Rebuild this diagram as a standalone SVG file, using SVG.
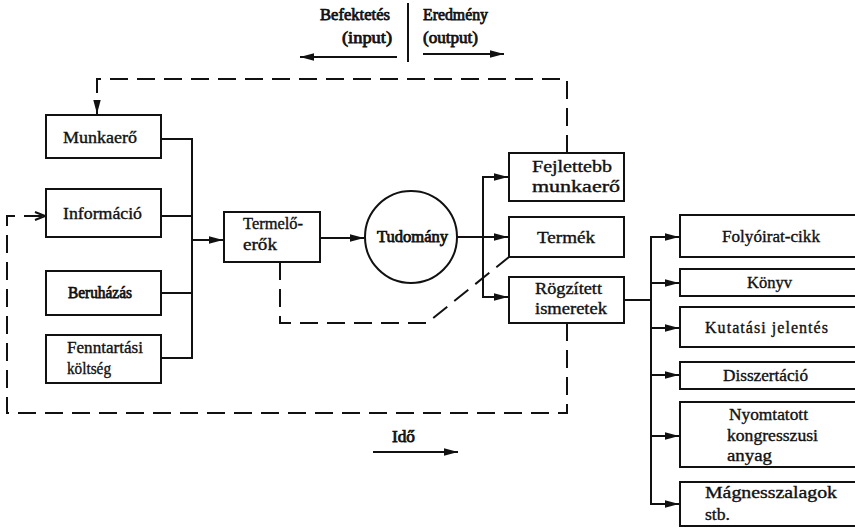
<svg xmlns="http://www.w3.org/2000/svg" width="855" height="528" viewBox="0 0 855 528">
  <defs>
    <marker id="arr" viewBox="0 0 14 9" refX="14" refY="4.5" markerWidth="14" markerHeight="9" markerUnits="userSpaceOnUse" orient="auto">
      <path d="M0,0.8 L14,4.5 L0,8.2 Z" fill="#111"/>
    </marker>
    <marker id="open" viewBox="0 0 12 10" refX="11" refY="5" markerWidth="12" markerHeight="10" markerUnits="userSpaceOnUse" orient="auto">
      <path d="M1,1 L11,5 L1,9" fill="none" stroke="#111" stroke-width="2"/>
    </marker>
  </defs>
  <style>
    .box { fill: #fff; stroke: #111; stroke-width: 2; }
    .ln { fill: none; stroke: #111; stroke-width: 2; }
    .dash { fill: none; stroke: #111; stroke-width: 2; stroke-dasharray: 18 9; }
    text { font-family: "Liberation Serif", "DejaVu Serif", serif; font-size: 16px; fill: #111; stroke: #111; stroke-width: 0.35; }
    .b { stroke-width: 0.75; }
  </style>
  <rect width="855" height="528" fill="#fff"/>

  <!-- direction legend -->
  <g id="legend">
    <line x1="408" y1="3" x2="408" y2="62" class="ln"/>
    <text x="320" y="20" class="b" textLength="70" lengthAdjust="spacingAndGlyphs">Befektetés</text>
    <text x="342" y="43" class="b" textLength="50" lengthAdjust="spacingAndGlyphs">(input)</text>
    <text x="423" y="20" class="b" textLength="65" lengthAdjust="spacingAndGlyphs">Eredmény</text>
    <text x="423" y="43" class="b" textLength="55" lengthAdjust="spacingAndGlyphs">(output)</text>
    <line x1="397" y1="57" x2="300" y2="57" class="ln" marker-end="url(#arr)"/>
    <line x1="423" y1="54" x2="504" y2="54" class="ln" marker-end="url(#arr)"/>
  </g>

  <!-- connectors -->
  <g id="connectors">
    <!-- feedback: developed labour back to labour -->
    <polyline points="567,153 567,79 97,79 97,114" class="dash" marker-end="url(#arr)"/>
    <!-- feedback: recorded knowledge back to information -->
    <polyline points="567,323 567,413 7,413 7,216 45,216" class="dash" marker-end="url(#open)"/>
    <!-- productive forces to product -->
    <polyline points="280,262 280,323 427,323 509,257" class="dash"/>
    <!-- inputs bus -->
    <line x1="161" y1="139" x2="192" y2="139" class="ln"/>
    <line x1="161" y1="216" x2="192" y2="216" class="ln"/>
    <line x1="161" y1="293" x2="192" y2="293" class="ln"/>
    <line x1="161" y1="358" x2="192" y2="358" class="ln"/>
    <line x1="192" y1="138" x2="192" y2="359" class="ln"/>
    <line x1="192" y1="240" x2="223" y2="240" class="ln" marker-end="url(#arr)"/>
    <line x1="320" y1="238" x2="364" y2="238" class="ln" marker-end="url(#arr)"/>
    <!-- outputs -->
    <line x1="457" y1="237" x2="508" y2="237" class="ln" marker-end="url(#arr)"/>
    <polyline points="495,177 483,177 483,297 495,297" class="ln"/>
    <line x1="483" y1="177" x2="508" y2="177" class="ln" marker-end="url(#arr)"/>
    <line x1="483" y1="297" x2="508" y2="297" class="ln" marker-end="url(#arr)"/>
    <!-- documents bus -->
    <line x1="624" y1="300" x2="651" y2="300" class="ln"/>
    <line x1="651" y1="236" x2="651" y2="505" class="ln"/>
    <line x1="651" y1="237" x2="679" y2="237" class="ln" marker-end="url(#arr)"/>
    <line x1="651" y1="283" x2="679" y2="283" class="ln" marker-end="url(#arr)"/>
    <line x1="651" y1="328" x2="679" y2="328" class="ln" marker-end="url(#arr)"/>
    <line x1="651" y1="375" x2="679" y2="375" class="ln" marker-end="url(#arr)"/>
    <line x1="651" y1="436" x2="679" y2="436" class="ln" marker-end="url(#arr)"/>
    <line x1="651" y1="504" x2="679" y2="504" class="ln" marker-end="url(#arr)"/>
  </g>

  <!-- input nodes -->
  <g id="munkaero">
    <rect x="46" y="115" width="115" height="43" class="box"/>
    <text x="63" y="143" textLength="74" lengthAdjust="spacingAndGlyphs">Munkaerő</text>
  </g>
  <g id="informacio">
    <rect x="46" y="189" width="115" height="48" class="box"/>
    <text x="63" y="219" textLength="79" lengthAdjust="spacingAndGlyphs">Információ</text>
  </g>
  <g id="beruhazas">
    <rect x="46" y="271" width="115" height="44" class="box"/>
    <text x="68" y="298" class="b" textLength="64" lengthAdjust="spacingAndGlyphs">Beruházás</text>
  </g>
  <g id="fenntartasi">
    <rect x="46" y="335" width="115" height="48" class="box"/>
    <text x="67" y="353" textLength="76" lengthAdjust="spacingAndGlyphs">Fenntartási</text>
    <text x="67" y="374" textLength="44" lengthAdjust="spacingAndGlyphs">költség</text>
  </g>

  <g id="termeloerok">
    <rect x="224" y="212" width="96" height="50" class="box"/>
    <text x="243" y="229" textLength="60" lengthAdjust="spacingAndGlyphs">Termelő-</text>
    <text x="243" y="250" textLength="34" lengthAdjust="spacingAndGlyphs">erők</text>
  </g>

  <g id="tudomany">
    <circle cx="411" cy="237" r="46" class="box"/>
    <text x="377" y="242" class="b" textLength="71" lengthAdjust="spacingAndGlyphs">Tudomány</text>
  </g>

  <!-- output nodes -->
  <g id="fejlettebb">
    <rect x="509" y="153" width="115" height="48" class="box"/>
    <text x="532" y="172" textLength="80" lengthAdjust="spacingAndGlyphs">Fejlettebb</text>
    <text x="532" y="192" textLength="88" lengthAdjust="spacingAndGlyphs">munkaerő</text>
  </g>
  <g id="termek">
    <rect x="509" y="217" width="115" height="40" class="box"/>
    <text x="537" y="243" textLength="58" lengthAdjust="spacingAndGlyphs">Termék</text>
  </g>
  <g id="rogzitett">
    <rect x="509" y="277" width="115" height="46" class="box"/>
    <text x="535" y="294" textLength="67" lengthAdjust="spacingAndGlyphs">Rögzített</text>
    <text x="535" y="314" textLength="72" lengthAdjust="spacingAndGlyphs">ismeretek</text>
  </g>

  <!-- document types -->
  <g id="folyoirat">
    <rect x="680" y="215" width="185" height="42" class="box"/>
    <text x="722" y="242" textLength="98" lengthAdjust="spacingAndGlyphs">Folyóirat-cikk</text>
  </g>
  <g id="konyv">
    <rect x="680" y="269" width="185" height="27" class="box"/>
    <text x="747" y="288" textLength="45" lengthAdjust="spacingAndGlyphs">Könyv</text>
  </g>
  <g id="kutatasi">
    <rect x="680" y="307" width="185" height="40" class="box"/>
    <text x="705" y="333" textLength="123" lengthAdjust="spacing">Kutatási  jelentés</text>
  </g>
  <g id="disszertacio">
    <rect x="680" y="362" width="185" height="27" class="box"/>
    <text x="723" y="381" textLength="85" lengthAdjust="spacingAndGlyphs">Disszertáció</text>
  </g>
  <g id="nyomtatott">
    <rect x="680" y="402" width="185" height="65" class="box"/>
    <text x="729" y="420" textLength="79" lengthAdjust="spacingAndGlyphs">Nyomtatott</text>
    <text x="727" y="441" textLength="91" lengthAdjust="spacingAndGlyphs">kongresszusi</text>
    <text x="727" y="461" textLength="45" lengthAdjust="spacingAndGlyphs">anyag</text>
  </g>
  <g id="magnesszalagok">
    <rect x="680" y="482" width="185" height="44" class="box"/>
    <text x="705" y="498" textLength="132" lengthAdjust="spacingAndGlyphs">Mágnesszalagok</text>
    <text x="705" y="520" textLength="25" lengthAdjust="spacingAndGlyphs">stb.</text>
  </g>

  <!-- time axis -->
  <g id="ido">
    <text x="392" y="442" class="b" textLength="23" lengthAdjust="spacingAndGlyphs">Idő</text>
    <line x1="373" y1="452" x2="458" y2="452" class="ln" marker-end="url(#arr)"/>
  </g>
</svg>
